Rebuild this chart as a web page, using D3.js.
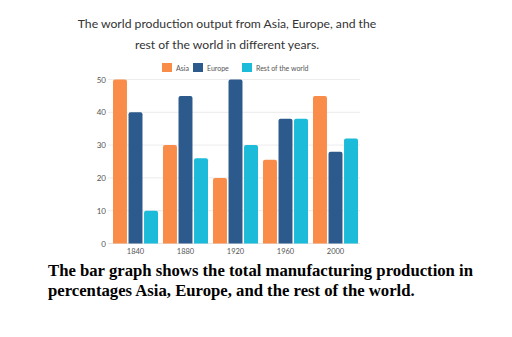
<!DOCTYPE html>
<html><head><meta charset="utf-8">
<script src="https://cdn.jsdelivr.net/npm/d3@7"></script>
<style>
html,body{margin:0;padding:0;background:#fff;}
svg{display:block;}
</style></head>
<body>
<script>
const years = ["1840","1880","1920","1960","2000"];
const seriesNames = ["Asia","Europe","Rest of the world"];
const asia = [50,30,20,25.5,45];
const europe = [40,45,50,38,28];
const rest = [10,26,30,38,32];
const yTicks = [0,10,20,30,40,50];
const colors = ["#F98C48","#2C5A8D","#1BBBD9"];
const titleLines = ["The world production output from Asia, Europe, and the","rest of the world in different years."];
const captionLines = ["The bar graph shows the total manufacturing production in","percentages Asia, Europe, and the rest of the world."];

const W=512,H=337;
const svg=d3.select("body").append("svg").attr("width",W).attr("height",H);
svg.append("rect").attr("width",W).attr("height",H).attr("fill","#fff");

const values=[asia,europe,rest];
const x0=d3.scaleBand().domain(years).range([110.5,360.5]).paddingInner(0.1).paddingOuter(0.05);
const x1=d3.scaleBand().domain(seriesNames).range([0,x0.bandwidth()]).paddingInner(0.1);
const y=d3.scaleLinear().domain([0,50]).range([243.5,79.5]);

// title
svg.append("g").selectAll("text").data(titleLines).join("text")
  .attr("x",227).attr("y",(d,i)=>28+i*21).attr("text-anchor","middle")
  .attr("font-family","Lato, 'Open Sans', sans-serif").attr("font-size",12.2)
  .attr("fill","#333").text(d=>d);

// legend
const legX=[162,193,242];
const leg=svg.append("g").selectAll("g").data(seriesNames).join("g")
  .attr("transform",(d,i)=>`translate(${legX[i]},63)`);
leg.append("rect").attr("width",10).attr("height",9).attr("fill",(d,i)=>colors[i]);
leg.append("text").attr("x",14).attr("y",7.5).attr("font-family","Lato, sans-serif")
  .attr("font-size",7).attr("fill","#555").text(d=>d);

// grid
const grid=svg.append("g");
grid.selectAll("line").data(yTicks.slice(1)).join("line")
  .attr("x1",108).attr("x2",360).attr("y1",d=>y(d)).attr("y2",d=>y(d))
  .attr("stroke","#ececec").attr("stroke-width",1);

// y axis
const yAxis=svg.append("g").attr("transform","translate(106,0)")
  .call(d3.axisLeft(y).tickValues(yTicks).tickSize(0).tickPadding(0));
yAxis.select(".domain").remove();
yAxis.selectAll("text").attr("font-family","Lato, sans-serif").attr("font-size",8).attr("fill","#555");

// baseline
svg.append("line").attr("x1",108).attr("x2",360).attr("y1",y(0)).attr("y2",y(0))
  .attr("stroke","#e4e4e4");

// bars
const groups=svg.append("g").selectAll("g").data(years).join("g")
  .attr("transform",d=>`translate(${x0(d)},0)`);
groups.selectAll("path").data((d,i)=>seriesNames.map((s,j)=>({s,j,v:values[j][i]}))).join("path")
  .attr("fill",d=>colors[d.j])
  .attr("d",d=>{
    const bx=x1(d.s), bw=x1.bandwidth(), top=y(d.v), bot=y(0), r=2;
    return `M${bx},${bot}V${top+r}Q${bx},${top} ${bx+r},${top}H${bx+bw-r}Q${bx+bw},${top} ${bx+bw},${top+r}V${bot}Z`;
  });

// x axis
const xAxis=svg.append("g").attr("transform",`translate(0,${y(0)})`)
  .call(d3.axisBottom(x0).tickSize(0).tickPadding(5));
xAxis.select(".domain").remove();
xAxis.selectAll("text").attr("font-family","Lato, sans-serif").attr("font-size",7.5).attr("fill","#555");

// caption
svg.append("g").selectAll("text").data(captionLines).join("text")
  .attr("x",48).attr("y",(d,i)=>276+i*20)
  .attr("font-family","'Liberation Serif','Times New Roman',serif").attr("font-weight","bold")
  .attr("font-size",16.7).attr("fill","#000").text(d=>d);
</script>
</body></html>
